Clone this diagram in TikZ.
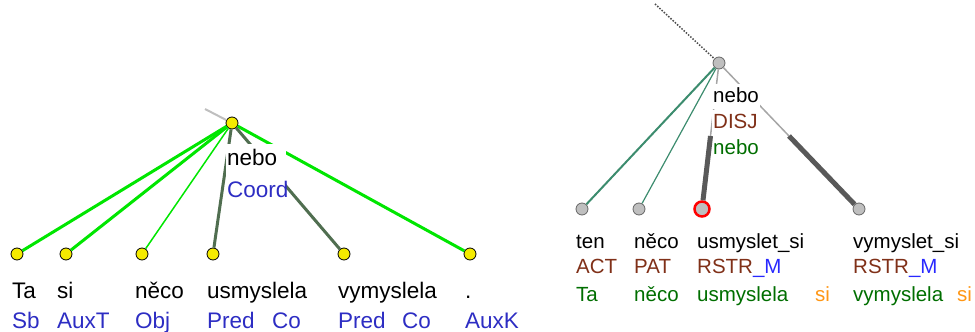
\documentclass[tikz,border=0pt]{standalone}
\usepackage{fontspec}
\setmainfont{Liberation Sans}
\usetikzlibrary{calc}
\definecolor{brightgreen}{RGB}{0,230,0}
\definecolor{darkedge}{RGB}{80,110,80}
\definecolor{tealedge}{RGB}{60,140,110}
\definecolor{afunblue}{RGB}{45,45,195}
\definecolor{mblue}{RGB}{40,40,255}
\definecolor{functor}{RGB}{128,48,24}
\definecolor{formgreen}{RGB}{0,110,0}
\definecolor{auxorange}{RGB}{255,150,20}
\definecolor{nodeyellow}{RGB}{245,235,0}
\begin{document}
\begin{tikzpicture}[x=1pt,y=-1pt]
			\tikzstyle{every edge}=[draw]
			\tikzstyle{anode}=[circle,draw=black,fill=nodeyellow,inner sep=0pt,minimum size=12pt,line width=0.8pt]
			\tikzstyle{tnode}=[circle,draw=black!60,fill=black!25,inner sep=0pt,minimum size=12pt,line width=0.8pt]
			\tikzstyle{lword}=[anchor=base west,inner sep=0pt,font=\fontsize{22.5}{26}\selectfont]
			\tikzstyle{rword}=[anchor=base west,inner sep=0pt,font=\fontsize{20.5}{24}\selectfont]
			\tikzstyle{lhead}=[lword,fill=white,inner xsep=1pt,inner ysep=2pt,text height=19pt,text depth=9pt,text width=58pt]
			\tikzstyle{rhead}=[rword,fill=white,inner xsep=1pt,inner ysep=1pt,text height=17pt,text depth=6pt,text width=46pt]
			\useasboundingbox (0,0) rectangle (975,332);

			\coordinate (lup) at (205,109);
			\node (lroot) at (232,123) [anode] {};
			\node (lta) at (17,254) [anode] {};
			\node (lsi) at (66,254) [anode] {};
			\node (lneco) at (142,254) [anode] {};
			\node (lusm) at (213,254) [anode] {};
			\node (lvym) at (344,254) [anode] {};
			\node (ldot) at (470,254) [anode] {};

			\path [black!25,line width=2pt] (lup) edge (lroot);
			\path [brightgreen,line width=3pt] (lroot) edge (lta) (lroot) edge (lsi) (lroot) edge (ldot);
			\path [brightgreen,line width=1.5pt] (lroot) edge (lneco);
			\path [darkedge,line width=3pt] (lroot) edge (lusm) (lroot) edge (lvym);

			\node (llemma) at (226,165) [lhead] {nebo};
			\node (lafun) at (226,197) [lhead,text=afunblue] {Coord};

			\node (wta) at (12,298) [lword] {Ta};
			\node (wsi) at (57,298) [lword] {si};
			\node (wneco) at (135,298) [lword] {něco};
			\node (wusm) at (207,298) [lword] {usmyslela};
			\node (wvym) at (338,298) [lword] {vymyslela};
			\node (wdot) at (465,298) [lword] {.};
			\node (fta) at (12,328) [lword,text=afunblue] {Sb};
			\node (fsi) at (57,328) [lword,text=afunblue] {AuxT};
			\node (fneco) at (135,328) [lword,text=afunblue] {Obj};
			\node (fusm) at (207,328) [lword,text=afunblue] {Pred};
			\node (cusm) at (272,328) [lword,text=afunblue] {Co};
			\node (fvym) at (338,328) [lword,text=afunblue] {Pred};
			\node (cvym) at (402,328) [lword,text=afunblue] {Co};
			\node (fdot) at (465,328) [lword,text=afunblue] {AuxK};

			\coordinate (rup) at (655,4);
			\node (rroot) at (719,63) [tnode] {};
			\node (rten) at (582,209) [tnode] {};
			\node (rneco) at (639,209) [tnode] {};
			\node (rusm) at (702,209) [tnode,draw=red,line width=2.5pt,minimum size=15pt] {};
			\node (rvym) at (859,209) [tnode] {};
			\coordinate (musm) at ($(rroot)!0.5!(rusm)$);
			\coordinate (mvym) at ($(rroot)!0.5!(rvym)$);

			\path [black!70,line width=1.5pt,dash pattern=on 1.5pt off 1.5pt] (rup) edge (rroot);
			\path [tealedge,line width=2pt] (rroot) edge (rten);
			\path [tealedge,line width=1.2pt] (rroot) edge (rneco);
			\path [black!35,line width=1.5pt] (rroot) edge (musm) (rroot) edge (mvym);

			\node (rlemma) at (712,102) [rhead] {nebo};
			\node (rfunc) at (712,128) [rhead,text=functor] {DISJ};
			\node (rform) at (712,154) [rhead,text=formgreen] {nebo};

			\path [black!65,line width=5pt] (musm) edge (rusm) (mvym) edge (rvym);

			\node (tten) at (576,248) [rword] {ten};
			\node (tneco) at (634,248) [rword] {něco};
			\node (tusm) at (697,248) [rword] {usmyslet\_si};
			\node (tvym) at (853,248) [rword] {vymyslet\_si};
			\node (gten) at (576,273) [rword,text=functor] {ACT};
			\node (gneco) at (634,273) [rword,text=functor] {PAT};
			\node (gusm) at (697,273) [rword,text=functor] {RSTR{\color{mblue}\_M}};
			\node (gvym) at (853,273) [rword,text=functor] {RSTR{\color{mblue}\_M}};
			\node (sten) at (576,301) [rword,text=formgreen] {Ta};
			\node (sneco) at (634,301) [rword,text=formgreen] {něco};
			\node (susm) at (697,301) [rword,text=formgreen] {usmyslela};
			\node (ausm) at (815,301) [rword,text=auxorange] {si};
			\node (svym) at (853,301) [rword,text=formgreen] {vymyslela};
			\node (avym) at (957,301) [rword,text=auxorange] {si};
		\end{tikzpicture}
\end{document}
